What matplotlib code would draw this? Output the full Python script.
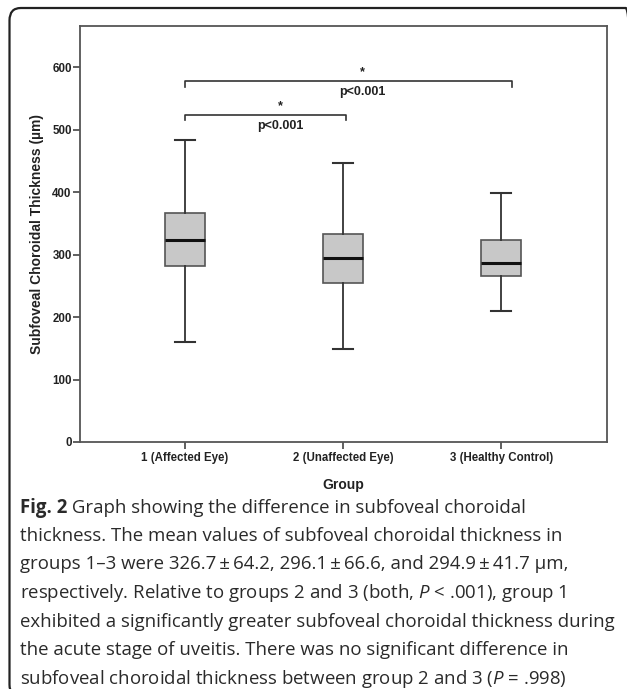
import matplotlib
matplotlib.use("Agg")
import matplotlib.pyplot as plt
from matplotlib.patches import FancyBboxPatch

# values
groups = ["1 (Affected Eye)", "2 (Unaffected Eye)", "3 (Healthy Control)"]
whisker_low = [160, 149, 210]
q1 = [281, 254, 266]
median = [323, 294, 287]
q3 = [366, 333, 323]
whisker_high = [484, 447, 399]

# significance brackets: (x start, x end, y level)
brackets = [(1.0, 2.02, 524), (1.0, 3.07, 578)]
bracket_labels = ["p<0.001", "p<0.001"]

caption_head = "Fig. 2"
caption = [
    " Graph showing the difference in subfoveal choroidal",
    "thickness. The mean values of subfoveal choroidal thickness in",
    "groups 1\u20133 were 326.7\u2009\u00b1\u200964.2, 296.1\u2009\u00b1\u200966.6, and 294.9\u2009\u00b1\u200941.7 \u00b5m,",
    r"respectively. Relative to groups 2 and 3 (both, $P$ < .001), group 1",
    "exhibited a significantly greater subfoveal choroidal thickness during",
    "the acute stage of uveitis. There was no significant difference in",
    r"subfoveal choroidal thickness between group 2 and 3 ($P$ = .998)",
]

plt.rcParams['font.family'] = ['Liberation Sans', 'DejaVu Sans']
plt.rcParams['mathtext.fontset'] = 'custom'
plt.rcParams['mathtext.rm'] = 'Open Sans'
plt.rcParams['mathtext.it'] = 'Open Sans:italic'
plt.rcParams['mathtext.bf'] = 'Open Sans:bold'

W, H = 627, 689
fig = plt.figure(figsize=(W / 100, H / 100), dpi=100)

# rounded frame around the whole figure (open at right/bottom edges)
frame = FancyBboxPatch((9.5 / W, 1 - 697 / H), (637 - 9.5) / W, (697 - 8) / H,
                       boxstyle="round,pad=0,rounding_size=0.018",
                       transform=fig.transFigure, fill=False,
                       edgecolor='#222222', linewidth=1.6, clip_on=False)
fig.patches.append(frame)

ax = fig.add_axes([80 / W, 1 - 442 / H, 527 / W, 416 / H])

stats = []
for i, g in enumerate(groups):
    stats.append(dict(label=g, whislo=whisker_low[i], q1=q1[i], med=median[i],
                      q3=q3[i], whishi=whisker_high[i], fliers=[]))

ax.bxp(stats, positions=[1, 2, 3], widths=0.25, patch_artist=True,
       showfliers=False,
       boxprops=dict(facecolor='#c8c8c8', edgecolor='#555555', linewidth=1.2),
       medianprops=dict(color='#111111', linewidth=2.2),
       whiskerprops=dict(color='#333333', linewidth=1.3),
       capprops=dict(color='#333333', linewidth=1.5),
       capwidths=0.125)

ax.set_xlim(0.335, 3.67)
ax.set_ylim(0, 666)
ax.set_yticks([0, 100, 200, 300, 400, 500, 600])

for s in ax.spines.values():
    s.set_color('#555555')
    s.set_linewidth(1.3)

ax.tick_params(axis='both', direction='out', length=5, width=1.2, color='#444444',
               labelsize=8.3)
ax.tick_params(axis='y', pad=1)
ax.tick_params(axis='x', pad=2)
for lab in ax.get_xticklabels() + ax.get_yticklabels():
    lab.set_fontweight('bold')
    lab.set_color('#222222')

ax.set_ylabel("Subfoveal Choroidal Thickness (\u00b5m)", fontsize=10,
              fontweight='bold', color='#222222', labelpad=6)
ax.set_xlabel("Group", fontsize=10, fontweight='bold', color='#222222', labelpad=10)

# significance brackets
for (x0, x1, y), lbl in zip(brackets, bracket_labels):
    ax.plot([x0, x0, x1, x1], [y - 9, y, y, y - 9], color='#333333', linewidth=1.2)
    xm = (x0 + x1) / 2 + 0.09
    ax.text(xm, y + 14, "*", ha='center', va='center', fontsize=9,
            fontweight='bold', color='#222222')
    ax.text(xm, y - 18, lbl, ha='center', va='center', fontsize=9,
            fontweight='bold', color='#222222')

# caption
ys = [508, 536, 564, 593, 622, 650, 679]
cap_size = 13.4
head = fig.text(20 / W, 1 - ys[0] / H, caption_head, fontsize=cap_size,
                family='Open Sans', fontweight='bold', color='#2a2a2a',
                ha='left', va='center')
fig.canvas.draw()
head_end = head.get_window_extent().x1 / W
for i, (line, y) in enumerate(zip(caption, ys)):
    x = head_end if i == 0 else 20 / W
    fig.text(x, 1 - y / H, line, fontsize=cap_size, family='Open Sans',
             color='#2a2a2a', ha='left', va='center')

fig.savefig("out.png", dpi=100)
